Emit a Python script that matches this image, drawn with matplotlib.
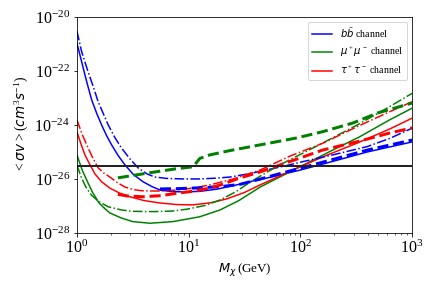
import numpy as np
import matplotlib.pyplot as plt
from matplotlib.ticker import FuncFormatter

plt.rcParams['font.family'] = 'serif'
plt.rcParams['font.serif'] = ['Liberation Serif', 'DejaVu Serif']
plt.rcParams['mathtext.fontset'] = 'custom'
plt.rcParams['mathtext.rm'] = 'Liberation Serif'
plt.rcParams['mathtext.it'] = 'DejaVu Sans:italic'
plt.rcParams['mathtext.bf'] = 'DejaVu Sans:bold'

# log10 of mass (GeV) and log10 of <sigma v> (cm^3/s)
# b bbar channel
bb_lm = [0, 0.042, 0.072, 0.102, 0.132, 0.177, 0.221, 0.266, 0.311, 0.37, 0.43, 0.504, 0.59,
         0.67, 0.743, 0.85, 0.967, 1.1, 1.25, 1.4, 1.55, 1.75, 2.0, 2.29, 2.6, 3.0]
bb_ls = [-20.97, -21.65, -22.15, -22.62, -23.07, -23.57, -24.0, -24.4, -24.74, -25.14, -25.48, -25.83, -26.1,
         -26.28, -26.41, -26.47, -26.48, -26.46, -26.38, -26.25, -26.1, -25.92, -25.67, -25.35, -25.0, -24.63]
bb2_lm = [0, 0.042, 0.1, 0.146, 0.19, 0.235, 0.28, 0.34, 0.4, 0.475, 0.55, 0.63, 0.7, 0.8, 0.95,
          1.1, 1.25, 1.37, 1.55, 1.84, 2.0, 2.29, 2.6, 2.8, 3.0]
bb2_ls = [-20.52, -21.28, -22.03, -22.58, -23.14, -23.57, -24.0, -24.47, -24.86, -25.26, -25.6, -25.82, -25.93, -25.98, -26.0,
          -26.0, -25.97, -25.93, -25.8, -25.54, -25.38, -25.11, -24.8, -24.5, -24.12]
bb_lim_lm = [0.743, 0.9, 1.1, 1.3, 1.46, 1.6, 1.75, 2.0, 2.29, 2.6, 3.0]
bb_lim_ls = [-26.37, -26.36, -26.33, -26.28, -26.2, -26.05, -25.88, -25.6, -25.28, -24.93, -24.56]

# mu+ mu- channel
mm_lm = [0, 0.05, 0.1, 0.143, 0.2, 0.25, 0.295, 0.4, 0.5, 0.654, 0.86, 1.1, 1.28, 1.45, 1.64,
         2.0, 2.29, 2.53, 2.8, 3.0]
mm_ls = [-25.11, -25.7, -26.15, -26.52, -26.9, -27.1, -27.26, -27.45, -27.58, -27.64, -27.58, -27.4, -27.15, -26.8, -26.3,
         -25.54, -24.93, -24.44, -23.81, -23.38]
mm2_lm = [0, 0.04, 0.08, 0.13, 0.2, 0.28, 0.4, 0.5, 0.68, 0.85, 0.985, 1.15, 1.28, 1.42, 1.55, 1.7,
          1.84, 2.2, 2.51, 2.8, 3.0]
mm2_ls = [-25.48, -25.95, -26.3, -26.6, -26.85, -27.03, -27.15, -27.2, -27.21, -27.19, -27.12, -26.98, -26.78, -26.48, -26.12, -25.75,
          -25.43, -24.67, -24.0, -23.32, -22.83]
mm_lim_lm = [0.367, 0.654, 0.877, 1.04, 1.1, 1.19, 1.37, 1.638, 1.97, 2.2, 2.47, 2.69, 3.0]
mm_lim_ls = [-25.96, -25.77, -25.63, -25.55, -25.24, -25.11, -24.95, -24.74, -24.48, -24.25, -23.93, -23.56, -23.19]

# tau+ tau- channel
tt_lm = [0, 0.036, 0.072, 0.11, 0.161, 0.22, 0.295, 0.38, 0.475, 0.6, 0.743, 0.9, 1.04, 1.2, 1.34,
         1.5, 1.64, 1.8, 2.0, 2.25, 2.51, 2.8, 3.0]
tt_ls = [-24.25, -24.7, -25.11, -25.42, -25.81, -26.1, -26.34, -26.52, -26.66, -26.8, -26.89, -26.95, -26.96, -26.88, -26.74,
         -26.5, -26.22, -25.92, -25.54, -25.1, -24.67, -24.15, -23.75]
tt2_lm = [0, 0.05, 0.1, 0.145, 0.19, 0.24, 0.295, 0.36, 0.43, 0.51, 0.59, 0.75, 0.895, 1.05, 1.19,
          1.4, 1.64, 1.91, 2.2, 2.51, 2.8, 3.0]
tt2_ls = [-23.81, -24.38, -24.85, -25.25, -25.59, -25.78, -25.93, -26.13, -26.3, -26.4, -26.44, -26.45, -26.41, -26.33, -26.22,
          -26.0, -25.67, -25.15, -24.68, -24.06, -23.51, -23.14]
tt_lim_lm = [0.367, 0.45, 0.59, 0.75, 0.895, 1.05, 1.19, 1.3, 1.46, 1.64, 1.82, 2.0, 2.2, 2.51, 2.8, 3.0]
tt_lim_ls = [-26.57, -26.63, -26.66, -26.62, -26.53, -26.45, -26.34, -26.2, -25.96, -25.74, -25.48, -25.22, -24.93, -24.62, -24.3, -24.11]

thermal = 3e-26

fig = plt.figure(figsize=(6, 296 / 72), dpi=72)
ax = fig.add_axes([0.178, 0.213, 0.776, 0.730])


def p(lm, ls):
    return 10 ** np.array(lm), 10 ** np.array(ls)


ax.plot(*p(bb_lm, bb_ls), color='b', lw=1.5, label=r'$b\bar{b}$ channel')
ax.plot(*p(mm_lm, mm_ls), color='g', lw=1.5, label=r'$\mu^+\mu^-$ channel')
ax.plot(*p(tt_lm, tt_ls), color='r', lw=1.5, label=r'$\tau^+\tau^-$ channel')

ax.plot(*p(bb2_lm, bb2_ls), color='b', lw=1.5, ls='-.')
ax.plot(*p(mm2_lm, mm2_ls), color='g', lw=1.5, ls='-.')
ax.plot(*p(tt2_lm, tt2_ls), color='r', lw=1.5, ls='-.')

ax.plot(*p(bb_lim_lm, bb_lim_ls), color='b', lw=3, ls='--')
ax.plot(*p(mm_lim_lm, mm_lim_ls), color='g', lw=3, ls='--')
ax.plot(*p(tt_lim_lm, tt_lim_ls), color='r', lw=3, ls='--')

ax.axhline(thermal, color='#222222', lw=2)

ax.set_xscale('log')
ax.set_yscale('log')
ax.set_xlim(1, 1000)
ax.set_ylim(1e-28, 1e-20)
ax.set_xticks([1, 10, 100, 1000])
ax.set_yticks([1e-28, 1e-26, 1e-24, 1e-22, 1e-20])
ax.yaxis.set_minor_locator(plt.NullLocator())

fmt = FuncFormatter(lambda v, pos: r'$\mathrm{10^{%d}}$' % round(np.log10(v)))
ax.xaxis.set_major_formatter(fmt)
ax.yaxis.set_major_formatter(fmt)
ax.tick_params(labelsize=16)

ax.set_xlabel(r'$M_\chi\,$(GeV)', fontsize=13)
ax.set_ylabel(r'$<\sigma v>(cm^3 s^{-1})$', fontsize=13.5)
ax.legend(loc='upper right', fontsize=10)

fig.savefig('out.png', dpi=72)
